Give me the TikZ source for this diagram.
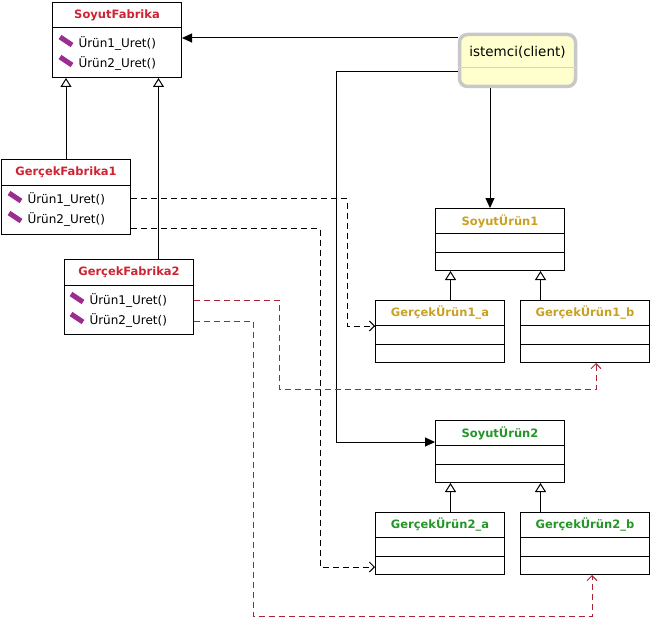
\documentclass[tikz,border=0pt]{standalone}
\usepackage{fontspec}
\setmainfont{DejaVu Sans}
\usetikzlibrary{arrows.meta}

\definecolor{factoryred}{RGB}{205,35,50}
\definecolor{productgold}{RGB}{200,160,35}
\definecolor{productgreen}{RGB}{35,150,40}
\definecolor{linkred}{RGB}{170,35,50}
\definecolor{clientfill}{RGB}{255,255,205}
\definecolor{clientgray}{RGB}{200,200,200}
\definecolor{clientline}{RGB}{225,215,165}
\definecolor{methodpurple}{RGB}{155,45,145}

\tikzset{
	classbox/.style = {draw, rectangle, anchor = north west, minimum width = 129pt, inner sep = 0pt},
	classtitle/.style = {font = \bfseries\fontsize{11.5}{13}\selectfont, inner sep = 0pt},
	methodtext/.style = {font = \fontsize{12}{14}\selectfont, anchor = west, inner sep = 0pt},
	methodicon/.style = {line width = 5pt, color = methodpurple},
	inherit/.style = {-{Triangle[open, length = 9pt, width = 11pt]}},
	call/.style = {-{Triangle[length = 10pt, width = 9pt]}},
	uses/.style = {dash pattern = on 6pt off 4pt, -{Straight Barb[length = 5pt, width = 10pt]}},
}

\begin{document}
\begin{tikzpicture}[x = 1pt, y = -1pt, line width = 1pt]
	\useasboundingbox (0, 0) rectangle (651, 618);

	% factories
	\node[classbox, minimum height = 75pt] (soyutfabrika) at (52, 2) {};
	\node[classbox, minimum height = 75pt] (gercekfabrika1) at (1, 159) {};
	\node[classbox, minimum height = 75pt] (gercekfabrika2) at (64, 259) {};
	\foreach \classname in {soyutfabrika, gercekfabrika1, gercekfabrika2}
		\draw ([yshift = -26pt] \classname.north west) -- ([yshift = -26pt] \classname.north east);
	\node[classtitle, text = factoryred] (soyutfabrikatitle) at ([yshift = -13pt] soyutfabrika.north) {SoyutFabrika};
	\node[classtitle, text = factoryred] (gercekfabrika1title) at ([yshift = -13pt] gercekfabrika1.north) {GerçekFabrika1};
	\node[classtitle, text = factoryred] (gercekfabrika2title) at ([yshift = -13pt] gercekfabrika2.north) {GerçekFabrika2};

	% methods
	\node[methodtext] (soyutfabrikam1) at (78, 43) {Ürün1\_Uret()};
	\node[methodtext] (soyutfabrikam2) at (78, 63) {Ürün2\_Uret()};
	\node[methodtext] (gercekfabrika1m1) at (27, 199) {Ürün1\_Uret()};
	\node[methodtext] (gercekfabrika1m2) at (27, 219) {Ürün2\_Uret()};
	\node[methodtext] (gercekfabrika2m1) at (89, 300) {Ürün1\_Uret()};
	\node[methodtext] (gercekfabrika2m2) at (89, 320) {Ürün2\_Uret()};
	\foreach \x/\y in {66/43, 66/63, 15/199, 15/219, 77/300, 77/320}
		\draw[methodicon] (\x - 6, \y - 6) -- (\x + 6, \y + 2);

	% products
	\node[classbox, minimum height = 62pt] (soyuturun1) at (435, 208) {};
	\node[classbox, minimum height = 62pt] (gercekurun1a) at (375, 300) {};
	\node[classbox, minimum height = 62pt] (gercekurun1b) at (520, 300) {};
	\node[classbox, minimum height = 62pt] (soyuturun2) at (435, 420) {};
	\node[classbox, minimum height = 62pt] (gercekurun2a) at (375, 512) {};
	\node[classbox, minimum height = 62pt] (gercekurun2b) at (520, 512) {};
	\foreach \classname in {soyuturun1, gercekurun1a, gercekurun1b, soyuturun2, gercekurun2a, gercekurun2b} {
		\draw ([yshift = -25pt] \classname.north west) -- ([yshift = -25pt] \classname.north east);
		\draw ([yshift = -44pt] \classname.north west) -- ([yshift = -44pt] \classname.north east);
	}
	\node[classtitle, text = productgold] (soyuturun1title) at ([yshift = -13pt] soyuturun1.north) {SoyutÜrün1};
	\node[classtitle, text = productgold] (gercekurun1atitle) at ([yshift = -13pt] gercekurun1a.north) {GerçekÜrün1\_a};
	\node[classtitle, text = productgold] (gercekurun1btitle) at ([yshift = -13pt] gercekurun1b.north) {GerçekÜrün1\_b};
	\node[classtitle, text = productgreen] (soyuturun2title) at ([yshift = -13pt] soyuturun2.north) {SoyutÜrün2};
	\node[classtitle, text = productgreen] (gercekurun2atitle) at ([yshift = -13pt] gercekurun2a.north) {GerçekÜrün2\_a};
	\node[classtitle, text = productgreen] (gercekurun2btitle) at ([yshift = -13pt] gercekurun2b.north) {GerçekÜrün2\_b};

	% client
	\node[draw = clientgray, fill = clientfill, line width = 3.5pt, rounded corners = 8pt, minimum width = 116pt, minimum height = 52pt] (client) at (517.5, 60.5) {};
	\node[font = \fontsize{13.5}{15}\selectfont, inner sep = 0pt] (clienttitle) at (517.5, 52) {istemci(client)};
	\draw[clientline, line width = 0.6pt] ([yshift = -6.5pt] client.west) -- ([yshift = -6.5pt] client.east);

	% inheritance
	\draw[inherit] (gercekfabrika1.north) -- (gercekfabrika1.north |- soyutfabrika.south);
	\draw[inherit] ([xshift = 29.5pt] gercekfabrika2.north) -- ([xshift = 29.5pt] gercekfabrika2.north |- soyutfabrika.south);
	\draw[inherit] ([xshift = 10.5pt] gercekurun1a.north) -- ([xshift = 10.5pt] gercekurun1a.north |- soyuturun1.south);
	\draw[inherit] ([xshift = -44.5pt] gercekurun1b.north) -- ([xshift = -44.5pt] gercekurun1b.north |- soyuturun1.south);
	\draw[inherit] ([xshift = 10.5pt] gercekurun2a.north) -- ([xshift = 10.5pt] gercekurun2a.north |- soyuturun2.south);
	\draw[inherit] ([xshift = -44.5pt] gercekurun2b.north) -- ([xshift = -44.5pt] gercekurun2b.north |- soyuturun2.south);

	% client calls
	\coordinate (clientbend) at (336, 442);
	\draw[call] ([yshift = 22.5pt] client.west) -- ([yshift = 22.5pt] client.west -| soyutfabrika.east);
	\draw[call] ([xshift = -27.5pt] client.south) -- ([xshift = -27.5pt] client.south |- soyuturun1.north);
	\draw[call] ([yshift = -11.5pt] client.west) -| (clientbend) -- (clientbend -| soyuturun2.west);

	% creates
	\coordinate (bend1) at (347, 326);
	\coordinate (bend2) at (320, 567);
	\coordinate (bend3) at (279.5, 389.5);
	\coordinate (bend4) at (253.5, 616.5);
	\draw[uses] ([yshift = -1.5pt] gercekfabrika1.east) -| (bend1) -- (bend1 -| gercekurun1a.west);
	\draw[uses] ([yshift = -31.5pt] gercekfabrika1.east) -| (bend2) -- (bend2 -| gercekurun2a.west);
	\draw[uses, linkred] ([yshift = -3pt] gercekfabrika2.east) -| (bend3) -| ([xshift = 11pt] gercekurun1b.south);
	\draw[uses, linkred] ([yshift = -24pt] gercekfabrika2.east) -| (bend4) -| ([xshift = 7pt] gercekurun2b.south);
\end{tikzpicture}
\end{document}
